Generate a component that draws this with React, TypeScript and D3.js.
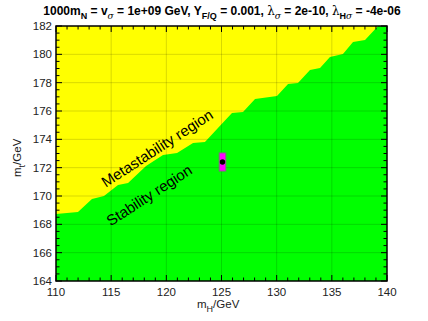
import React from "react";
import * as d3 from "d3";

// stability / metastability boundary
const boundaryMH = [110.0, 111.99, 113.26, 114.35, 115.62, 116.53, 118.16, 119.7, 120.97, 122.42, 123.5, 124.68, 125.95, 126.95, 128.04, 130.03, 131.03, 131.93, 133.02, 133.93, 134.83, 136.01, 136.92, 138.01, 139.19];
const boundaryMt = [168.73, 168.87, 169.79, 170.0, 170.78, 170.92, 172.12, 172.89, 173.04, 173.74, 173.81, 174.8, 175.86, 175.93, 176.85, 177.06, 177.91, 177.98, 178.89, 179.04, 179.81, 180.02, 180.87, 181.01, 182.0];

// measured point with error box
const pointMH = [125.09];
const pointMt = [172.4];
const errMH = [0.3];
const errMt = [0.64];

const xTicks = [110, 115, 120, 125, 130, 135, 140];
const yTicks = [164, 166, 168, 170, 172, 174, 176, 178, 180, 182];

const W = 428;
const H = 321;
const margin = { top: 26, right: 41, bottom: 40, left: 56 };
const font = "'Liberation Sans', Arial, Helvetica, sans-serif";

export default function App() {
  const x = d3.scaleLinear().domain([110, 140]).range([margin.left, W - margin.right]);
  const y = d3.scaleLinear().domain([164, 182]).range([H - margin.bottom, margin.top]);
  const [x0, x1] = x.range();
  const [y0, y1] = [y(182), y(164)];

  const pts: [number, number][] = boundaryMH.map((m, i) => [m, boundaryMt[i]]);
  const greenPts: [number, number][] = [[110, 164], ...pts, [140, 182], [140, 164]];
  const area = d3.line<[number, number]>().x(d => x(d[0])).y(d => y(d[1]));

  const xMinor = d3.range(110, 140.01, 1);
  const yMinor = d3.range(164, 182.01, 0.5);
  const isMajorX = (v: number) => Math.abs(v % 5) < 1e-6;
  const isMajorY = (v: number) => Math.abs(v % 2) < 1e-6;

  const greek = "'DejaVu Serif', 'Liberation Serif', serif";

  return (
    <svg width={W} height={H} style={{ position: "absolute", left: 0, top: 0 }}>
      <rect x={0} y={0} width={W} height={H} fill="#fff" />
      {/* regions */}
      <rect x={x0} y={y0} width={x1 - x0} height={y1 - y0} fill="#ffff00" />
      <path d={area(greenPts) + "Z"} fill="#00ff00" />

      {/* grid */}
      {xTicks.slice(1, -1).map(t => (
        <line key={"gx" + t} x1={x(t)} x2={x(t)} y1={y0} y2={y1} stroke="#000" strokeOpacity={0.15} />
      ))}
      {yTicks.slice(1, -1).map(t => (
        <line key={"gy" + t} x1={x0} x2={x1} y1={y(t)} y2={y(t)} stroke="#000" strokeOpacity={0.15} />
      ))}

      {/* ticks */}
      {xMinor.map(t => {
        const len = isMajorX(t) ? 6 : 3.5;
        return (
          <g key={"tx" + t} stroke="#000" strokeWidth={1}>
            <line x1={x(t)} x2={x(t)} y1={y1} y2={y1 - len} />
            <line x1={x(t)} x2={x(t)} y1={y0} y2={y0 + len} />
          </g>
        );
      })}
      {yMinor.map(t => {
        const len = isMajorY(t) ? 6 : 3.5;
        return (
          <g key={"ty" + t} stroke="#000" strokeWidth={1}>
            <line x1={x0} x2={x0 + len} y1={y(t)} y2={y(t)} />
            <line x1={x1} x2={x1 - len} y1={y(t)} y2={y(t)} />
          </g>
        );
      })}

      {/* error box */}
      <rect
        x={x(pointMH[0] - errMH[0])}
        y={y(pointMt[0] + errMt[0])}
        width={x(pointMH[0] + errMH[0]) - x(pointMH[0] - errMH[0])}
        height={y(pointMt[0] - errMt[0]) - y(pointMt[0] + errMt[0])}
        fill="#ff00ff"
        stroke="#777"
        strokeWidth={1}
      />
      <circle cx={x(pointMH[0])} cy={y(pointMt[0])} r={2.7} fill="#000" />

      <rect x={x0} y={y0} width={x1 - x0} height={y1 - y0} fill="none" stroke="#000" strokeWidth={1.5} />

      {/* tick labels */}
      {xTicks.map(t => (
        <text key={"lx" + t} x={x(t)} y={296} textAnchor="middle" fontFamily={font} fontSize={11.5} fill="#222">{t}</text>
      ))}
      {yTicks.map(t => (
        <text key={"ly" + t} x={52} y={y(t) + 4} textAnchor="end" fontFamily={font} fontSize={11.5} fill="#222">{t}</text>
      ))}

      {/* axis titles */}
      <text x={197} y={308} fontFamily={font} fontSize={11.5} fill="#222">
        m<tspan fontSize={9} dy={4}>H</tspan><tspan dy={-4}>/GeV</tspan>
      </text>
      <text transform="translate(21,177) rotate(-90)" fontFamily={font} fontSize={11.5} fill="#222">
        m<tspan fontSize={9} dy={4}>t</tspan><tspan dy={-4}>/GeV</tspan>
      </text>

      {/* region labels */}
      <text transform="translate(157,148) rotate(-33)" textAnchor="middle" dominantBaseline="central" fontFamily={font} fontSize={15} fill="#000">Metastability region</text>
      <text transform="translate(149,195) rotate(-33)" textAnchor="middle" dominantBaseline="central" fontFamily={font} fontSize={15} fill="#000">Stability region</text>

      {/* title */}
      <text x={222} y={15} textAnchor="middle" fontFamily={font} fontSize={12} fontWeight="bold" fill="#000">
        1000m<tspan fontSize={9} dy={4}>N</tspan>
        <tspan dy={-4}> = v</tspan>
        <tspan fontSize={9} dy={4} fontFamily={greek} fontWeight="normal" fontStyle="italic">σ</tspan>
        <tspan dy={-4}> = 1e+09 GeV, Y</tspan>
        <tspan fontSize={9} dy={4}>F/Q</tspan>
        <tspan dy={-4}> = 0.001, </tspan>
        <tspan fontFamily={greek} fontWeight="normal">λ</tspan>
        <tspan fontSize={9} dy={4} fontFamily={greek} fontWeight="normal" fontStyle="italic">σ</tspan>
        <tspan dy={-4}> = 2e-10, </tspan>
        <tspan fontFamily={greek} fontWeight="normal">λ</tspan>
        <tspan fontSize={9} dy={4}>H</tspan>
        <tspan fontSize={9} fontFamily={greek} fontWeight="normal" fontStyle="italic">σ</tspan>
        <tspan dy={-4}> = -4e-06</tspan>
      </text>
    </svg>
  );
}
